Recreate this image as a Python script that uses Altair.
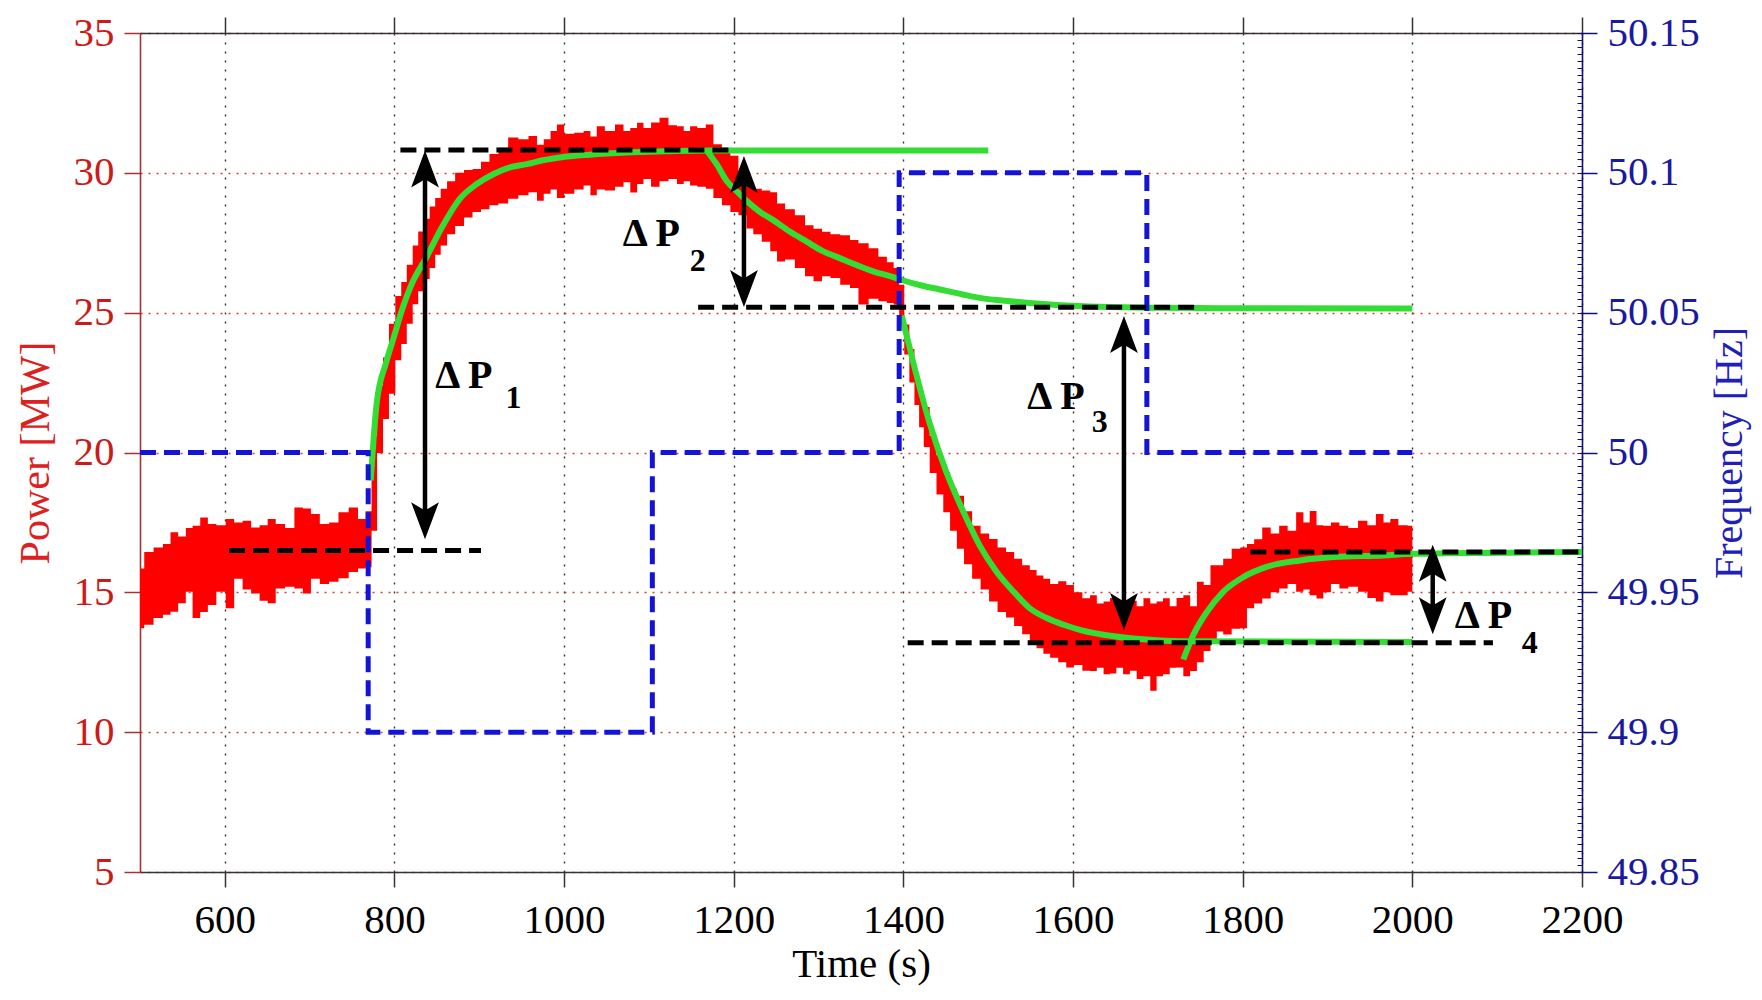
import altair as alt
import pandas as pd

FONT = "Liberation Serif"

# ---------------- data ----------------
# measured power: noisy record drawn as upper / lower envelope [MW]
band_t = [500, 510, 522, 532, 540, 550, 558, 566, 576, 584, 596, 606, 616, 626, 636, 646, 655, 665, 677, 687,
          697, 706, 718, 728, 740, 752, 762, 770, 776, 783, 790, 797, 805, 811, 818, 825, 831, 838, 845, 851,
          858, 866, 877, 887, 897, 907, 917, 928, 940, 952, 964, 972, 980, 988, 995, 1005, 1019, 1027, 1035, 1042,
          1054, 1066, 1074, 1082, 1090, 1097, 1108, 1117, 1129, 1137, 1145, 1152, 1162, 1172, 1180, 1192, 1200, 1211, 1219, 1227,
          1239, 1247, 1255, 1266, 1278, 1290, 1298, 1310, 1318, 1333, 1341, 1353, 1365, 1376, 1385, 1392, 1398, 1404, 1410, 1416,
          1421, 1427, 1435, 1443, 1451, 1459, 1467, 1476, 1486, 1496, 1506, 1516, 1526, 1535, 1545, 1553, 1561, 1569, 1577, 1588,
          1596, 1606, 1616, 1624, 1632, 1640, 1647, 1655, 1663, 1671, 1679, 1687, 1695, 1702, 1710, 1718, 1726, 1734, 1742, 1750,
          1758, 1766, 1773, 1781, 1793, 1801, 1809, 1818, 1828, 1838, 1848, 1858, 1868, 1875, 1883, 1891, 1899, 1909, 1919, 1930,
          1942, 1952, 1962, 1970, 1978, 1989, 2000]
band_hi = [15.85, 16.44, 16.60, 16.73, 17.15, 17.00, 17.30, 17.38, 17.68, 17.44, 17.40, 17.62, 17.50, 17.56, 17.32, 17.40, 17.62, 17.44, 17.30, 18.03,
           18.00, 17.80, 17.44, 17.50, 17.86, 18.03, 17.62, 17.90, 20.60, 22.40, 23.40, 24.60, 25.60, 26.10, 26.71, 27.40, 27.90, 28.36, 28.80, 29.10,
           29.43, 29.70, 30.00, 30.10, 30.14, 30.40, 30.67, 30.90, 31.26, 31.20, 31.32, 31.00, 31.20, 31.50, 31.73, 31.40, 31.43, 31.50, 31.30, 31.67,
           31.50, 31.73, 31.50, 31.60, 31.79, 31.60, 31.80, 31.97, 31.70, 31.67, 31.50, 31.67, 31.60, 31.73, 31.02, 30.80, 30.61, 30.00, 29.66, 29.43,
           29.37, 29.31, 28.90, 28.70, 28.48, 28.13, 28.00, 27.89, 27.80, 27.77, 27.60, 27.48, 27.30, 27.00, 26.80, 26.60, 26.00, 24.58, 23.70, 22.80,
           22.20, 21.63, 20.60, 19.90, 19.30, 18.70, 18.45, 17.90, 17.38, 17.10, 16.91, 16.60, 16.44, 16.20, 15.97, 15.80, 15.60, 15.49, 15.30, 15.40,
           15.26, 15.00, 14.79, 14.90, 14.60, 14.67, 14.80, 14.40, 14.55, 14.70, 14.50, 14.79, 14.60, 14.67, 14.79, 14.50, 14.80, 14.90, 14.50, 15.38,
           15.26, 15.97, 15.97, 16.20, 16.56, 16.60, 16.73, 16.90, 17.32, 17.10, 17.38, 17.20, 17.86, 17.50, 17.91, 17.40, 17.38, 17.50, 17.38, 17.30,
           17.56, 17.40, 17.80, 17.50, 17.62, 17.40, 17.38]
band_lo = [13.72, 13.84, 14.08, 14.20, 14.31, 14.61, 15.02, 14.08, 14.30, 14.55, 15.02, 14.43, 15.49, 15.10, 14.96, 14.70, 14.61, 15.14, 15.20, 15.14,
           14.96, 15.49, 15.30, 15.38, 15.50, 15.73, 15.85, 15.90, 17.20, 19.98, 21.20, 22.10, 23.30, 23.88, 24.60, 25.30, 25.77, 26.20, 26.60, 27.07,
           27.40, 27.80, 28.10, 28.40, 28.60, 28.70, 28.84, 28.90, 29.07, 29.20, 29.31, 29.00, 29.25, 29.40, 29.10, 29.25, 29.40, 29.55, 29.20, 29.40,
           29.37, 29.50, 29.66, 29.30, 29.60, 29.78, 29.50, 29.70, 29.78, 29.60, 29.70, 29.55, 29.50, 29.43, 29.10, 28.84, 28.60, 28.48, 28.01, 27.80,
           27.54, 27.20, 26.83, 26.90, 26.60, 26.30, 26.12, 26.30, 26.24, 26.00, 25.88, 25.29, 25.50, 25.41, 25.35, 25.29, 24.80, 23.50, 22.50, 21.70,
           20.90, 20.20, 19.27, 18.50, 17.86, 17.20, 16.56, 16.00, 15.49, 15.10, 14.67, 14.30, 14.10, 13.80, 13.50, 13.25, 13.00, 12.80, 12.66, 12.50,
           12.31, 12.40, 12.20, 12.19, 12.30, 12.07, 12.10, 12.30, 12.07, 12.20, 11.90, 12.00, 11.48, 12.00, 12.07, 12.30, 12.31, 12.00, 12.19, 12.50,
           12.90, 13.20, 13.60, 13.49, 13.70, 13.72, 14.43, 14.60, 14.78, 15.00, 15.14, 15.30, 15.02, 15.10, 14.90, 14.78, 15.00, 15.30, 15.14, 15.20,
           15.02, 14.80, 14.67, 15.00, 14.90, 14.90, 15.02]

# fitted responses (green) [s], [MW]
g1_t = [772, 779, 790, 799, 810, 820, 838, 855, 877, 897, 917, 937, 956, 975, 995, 1030, 1074, 1120, 1170, 1500]
g1_p = [19.0, 21.75, 23.2, 24.1, 25.2, 26.0, 27.0, 28.0, 29.07, 29.6, 29.96, 30.2, 30.31, 30.45, 30.55, 30.65, 30.73, 30.77, 30.8, 30.8]
g2_t = [1168, 1180, 1192, 1205, 1215, 1231, 1247, 1266, 1286, 1305, 1325, 1345, 1365, 1385, 1400, 1420, 1443, 1470, 1490, 1530,
        1569, 1620, 1687, 1773, 2000]
g2_p = [30.8, 30.3, 29.7, 29.3, 29.0, 28.6, 28.3, 27.9, 27.54, 27.2, 26.95, 26.7, 26.47, 26.3, 26.15, 25.98, 25.83, 25.65, 25.53, 25.4,
        25.3, 25.22, 25.18, 25.16, 25.15]
g3_t = [1398, 1412, 1431, 1451, 1471, 1490, 1510, 1530, 1549, 1569, 1589, 1608, 1648, 1687, 1726, 2000]
g3_p = [24.9, 23.17, 21.04, 19.27, 17.86, 16.67, 15.73, 15.02, 14.43, 14.08, 13.84, 13.66, 13.43, 13.31, 13.25, 13.22]
g4_t = [1730, 1742, 1758, 1777, 1801, 1828, 1868, 1907, 1966, 2001, 2200]
g4_p = [12.6, 13.49, 14.31, 15.02, 15.55, 15.91, 16.14, 16.26, 16.32, 16.38, 16.44]

# frequency step profile (blue) [s], [Hz]
freq_t = [500, 769, 769, 1104, 1104, 1395, 1395, 1687, 1687, 2000]
freq_v = [50.0, 50.0, 49.9, 49.9, 50.0, 50.0, 50.1, 50.1, 50.0, 50.0]

# black dashed reference levels
hl_x1 = [605, 807, 1158, 1405, 1809]
hl_x2 = [902, 1196, 1744, 2095, 2200]
hl_y = [16.5, 30.82, 25.19, 13.2, 16.44]

# double arrows
ar_x = [836, 1212, 1660, 2024]
ar_top = [30.8, 30.6, 24.88, 16.7]
ar_bot = [16.9, 25.2, 13.65, 13.5]

# annotation labels
lab_t = [848, 1069, 1546, 2050]
lab_p = [22.74, 27.8, 21.98, 14.17]
lab_txt = ["\u0394 P", "\u0394 P", "\u0394 P", "\u0394 P"]
sub_t = [931, 1148, 1622, 2129]
sub_p = [21.96, 26.85, 21.1, 13.2]
sub_txt = ["1", "2", "3", "4"]

# axis ticks (power scale and frequency scale share the same grid:
# 5 MW  <->  49.85 Hz, 35 MW <-> 50.15 Hz)
x_ticks = [600, 800, 1000, 1200, 1400, 1600, 1800, 2000, 2200]
p_ticks = [5, 10, 15, 20, 25, 30, 35]
p_minor = [5 + 0.25 * i for i in range(121)]

# ---------------- tables ----------------
band_df = pd.DataFrame({"t": band_t, "hi": band_hi, "lo": band_lo})
green_df = pd.concat([
    pd.DataFrame({"t": g1_t, "p": g1_p, "seg": "g1"}),
    pd.DataFrame({"t": g2_t, "p": g2_p, "seg": "g2"}),
    pd.DataFrame({"t": g3_t, "p": g3_p, "seg": "g3"}),
    pd.DataFrame({"t": g4_t, "p": g4_p, "seg": "g4"}),
], ignore_index=True)
green_df["o"] = range(len(green_df))
freq_df = pd.DataFrame({"t": freq_t, "f": freq_v, "o": range(len(freq_t))})
hl_df = pd.DataFrame({"x1": hl_x1, "x2": hl_x2, "y": hl_y})
ar_df = pd.DataFrame({"x": ar_x, "top": ar_top, "bot": ar_bot})
ar_df["s_top"] = ar_df["top"] - 0.6
ar_df["s_bot"] = ar_df["bot"] + 0.6
lab_df = pd.DataFrame({"t": lab_t, "p": lab_p, "txt": lab_txt})
sub_df = pd.DataFrame({"t": sub_t, "p": sub_p, "txt": sub_txt})

# ---------------- scales / axes ----------------
xs = alt.Scale(domain=[500, 2200], nice=False, zero=False)
ps = alt.Scale(domain=[5, 35], nice=False, zero=False)

AX = "#333333"
RED_AX = "#a83030"
BLUE_AX = "#10107a"
FS = 41

x_bottom = alt.Axis(orient="bottom", values=x_ticks, format="d", title="Time (s)", grid=True,
                    gridColor="#333333", gridDash=[2, 7], gridWidth=1.4, tickSize=15, tickWidth=1.5,
                    tickColor=AX, domainColor=AX, domainWidth=1.6, labelFont=FONT, labelFontSize=FS,
                    labelColor="black", labelPadding=13, labelFlush=False, labelOverlap=False,
                    titleFont=FONT, titleFontSize=FS, titleFontWeight="normal", titleColor="black",
                    titlePadding=4)
x_top = alt.Axis(orient="top", values=x_ticks, title=None, labels=False, grid=False, tickSize=16,
                 tickWidth=1.5, tickColor=AX, domainColor=AX, domainWidth=1.6)
p_left = alt.Axis(orient="left", values=p_ticks, format="d", title="Power [MW]", grid=True,
                  gridColor="#cc4040", gridDash=[2, 6], gridWidth=1.4, tickSize=16, tickWidth=1.5,
                  tickColor=RED_AX, domainColor=RED_AX, domainWidth=1.6, labelFont=FONT, labelFontSize=FS,
                  labelColor="#cc1a1a", labelPadding=10, labelOverlap=False, titleFont=FONT,
                  titleFontSize=FS + 1, titleFontWeight="normal", titleColor="#dd2020", titlePadding=16)
f_right = alt.Axis(orient="right", values=p_ticks, labelExpr="format(50 + (datum.value - 20) * 0.01, '.6~g')",
                   title="Frequency [Hz]", grid=False, tickSize=15, tickWidth=1.5, tickColor=BLUE_AX,
                   domainColor=BLUE_AX, domainWidth=1.6, labelFont=FONT, labelFontSize=FS,
                   labelColor="#1a1aa0", labelPadding=10, labelOverlap=False, titleFont=FONT,
                   titleFontSize=40, titleFontWeight="normal", titleColor="#2020b8", titleAngle=270,
                   titleBaseline="top", titlePadding=10)
f_minor_ax = alt.Axis(orient="right", values=p_minor, title=None, labels=False, domain=False, grid=False,
                      tickSize=5, tickWidth=1, tickColor=BLUE_AX, offset=-5)

# ---------------- marks ----------------
band = alt.Chart(band_df).mark_area(interpolate="step", color="#ff0000", opacity=1).encode(
    x=alt.X("t:Q", scale=xs, axis=x_bottom),
    y=alt.Y("hi:Q", scale=ps, axis=p_left),
    y2="lo:Q",
)
green = alt.Chart(green_df).mark_line(color="#33dd33", strokeWidth=6, interpolate="monotone").encode(
    x=alt.X("t:Q", scale=xs, axis=x_top),
    y=alt.Y("p:Q", scale=ps, axis=None),
    detail="seg:N",
    order="o:Q",
)
# frequency in Hz mapped onto the shared grid of the power axis
blue = alt.Chart(freq_df).transform_calculate(p="20 + (datum.f - 50) * 100").mark_line(
    color="#1414d6", strokeWidth=5, strokeDash=[16, 8]).encode(
    x=alt.X("t:Q", scale=xs, axis=None),
    y=alt.Y("p:Q", scale=ps, axis=f_right),
    order="o:Q",
)
blue_minor = alt.Chart(freq_df).transform_calculate(p="20 + (datum.f - 50) * 100").mark_line(
    opacity=0).encode(
    x=alt.X("t:Q", scale=xs, axis=None),
    y=alt.Y("p:Q", scale=ps, axis=f_minor_ax),
    order="o:Q",
)
hlines = alt.Chart(hl_df).mark_rule(color="black", strokeWidth=5, strokeDash=[16, 8]).encode(
    x=alt.X("x1:Q", scale=xs, axis=None),
    x2="x2:Q",
    y=alt.Y("y:Q", scale=ps, axis=None),
)
shafts = alt.Chart(ar_df).mark_rule(color="black", strokeWidth=4.5).encode(
    x=alt.X("x:Q", scale=xs, axis=None),
    y=alt.Y("s_top:Q", scale=ps, axis=None),
    y2="s_bot:Q",
)
head_up = alt.Chart(ar_df).mark_point(shape="M0,0L-0.75,2L0,1.55L0.75,2Z", filled=True, size=1369,
                                       color="black", opacity=1, strokeWidth=0).encode(
    x=alt.X("x:Q", scale=xs, axis=None),
    y=alt.Y("top:Q", scale=ps, axis=None),
)
head_dn = alt.Chart(ar_df).mark_point(shape="M0,0L-0.75,-2L0,-1.55L0.75,-2Z", filled=True, size=1369,
                                       color="black", opacity=1, strokeWidth=0).encode(
    x=alt.X("x:Q", scale=xs, axis=None),
    y=alt.Y("bot:Q", scale=ps, axis=None),
)
labels = alt.Chart(lab_df).mark_text(align="left", baseline="middle", font=FONT, fontWeight="bold",
                                     fontSize=40, color="black").encode(
    x=alt.X("t:Q", scale=xs, axis=None),
    y=alt.Y("p:Q", scale=ps, axis=None),
    text="txt:N",
)
subs = alt.Chart(sub_df).mark_text(align="left", baseline="middle", font=FONT, fontWeight="bold",
                                   fontSize=32, color="black").encode(
    x=alt.X("t:Q", scale=xs, axis=None),
    y=alt.Y("p:Q", scale=ps, axis=None),
    text="txt:N",
)

chart = alt.layer(
    band, green, blue, blue_minor, hlines, shafts, head_up, head_dn, labels, subs
).resolve_axis(x="independent", y="independent").properties(
    width=1442,
    height=839,
    autosize=alt.AutoSizeParams(type="none"),
    padding={"left": 132, "top": 25, "right": 171, "bottom": 120},
).configure_view(stroke=None)

chart.save("out.html", embed_options={"renderer": "svg", "actions": False})
